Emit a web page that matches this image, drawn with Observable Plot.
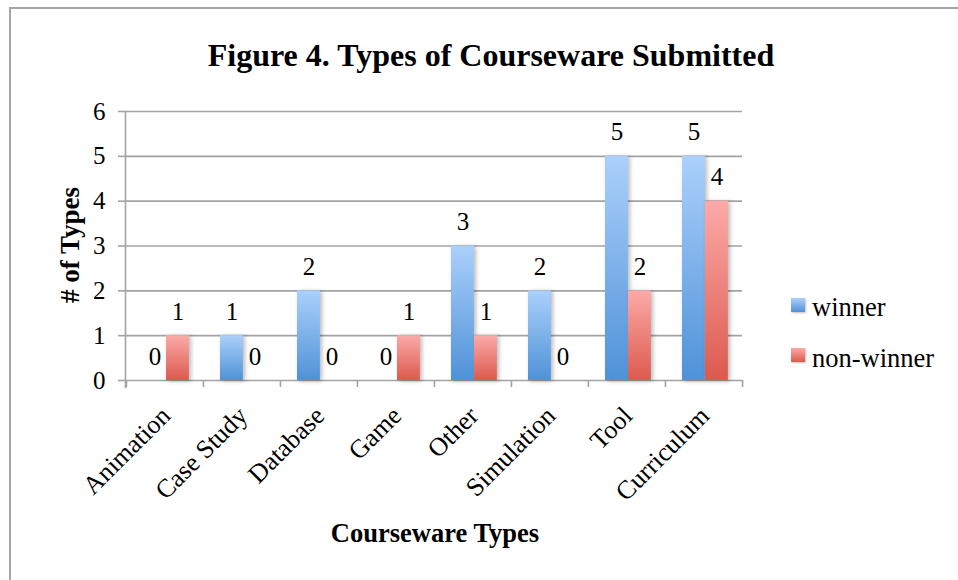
<!DOCTYPE html>
<html><head><meta charset="utf-8">
<script src="https://cdn.jsdelivr.net/npm/d3@7"></script>
<script src="https://cdn.jsdelivr.net/npm/@observablehq/plot@0.6"></script>
<style>
body{margin:0;background:#fff;font-family:"Liberation Serif","Times New Roman",serif;color:#000}
#wrap{position:relative;width:958px;height:580px;overflow:hidden}
#frame{position:absolute;left:9px;top:7px;width:980px;height:600px;border-top:2px solid #a6a6a6;border-left:2px solid #a6a6a6;box-sizing:border-box}
#chart{position:absolute;left:0;top:0}
.title{position:absolute;left:0;width:982px;text-align:center;top:37px;line-height:36px;font-weight:bold;font-size:32px}
.ylab{position:absolute;left:70px;top:245px;transform:translate(-50%,-50%) rotate(-90deg);font-weight:bold;font-size:27px;white-space:nowrap}
.xlab{position:absolute;left:435px;top:533px;transform:translate(-50%,-50%);font-weight:bold;font-size:26.5px;white-space:nowrap}
.sw{position:absolute;left:791px;width:14px;height:14px;box-shadow:1px 1px 2px rgba(0,0,0,.25)}
.lt{position:absolute;left:812px;font-size:26.5px;line-height:30px;white-space:nowrap}
svg g[aria-label="bar"] rect{filter:drop-shadow(2px 1px 2px rgba(0,0,0,.28))}
</style>
</head><body>
<div id="wrap">
<div id="frame"></div>
<div id="chart"></div>
<div class="title">Figure 4. Types of Courseware Submitted</div>
<div class="ylab"># of Types</div>
<div class="xlab">Courseware Types</div>
<div class="sw" style="top:298px;background:linear-gradient(#abd0fb,#4f92d8)"></div>
<div class="lt" style="top:292px">winner</div>
<div class="sw" style="top:348px;background:linear-gradient(#fcaaa8,#dc5a4e)"></div>
<div class="lt" style="top:343px">non-winner</div>
</div>
<script>
const categories = ["Animation","Case Study","Database","Game","Other","Simulation","Tool","Curriculum"];
const winner    = [0,1,2,0,3,2,5,5];
const nonWinner = [1,0,0,1,1,0,2,4];
const seriesNames = ["winner","non-winner"];
const yTicks = [0,1,2,3,4,5,6];

const winRows = categories.map((c,i)=>({category:c, series:seriesNames[0], value:winner[i]}));
const nonRows = categories.map((c,i)=>({category:c, series:seriesNames[1], value:nonWinner[i]}));

const W = 958, H = 580, mL = 125, mR = 216, mT = 111, mB = 200;
const bw = (W - mL - mR) / categories.length;
const gridColor = "#a3a3a3";
const fs = 25;

const chart = Plot.plot({
  width: W, height: H,
  marginLeft: mL, marginRight: mR, marginTop: mT, marginBottom: mB,
  x: {type: "band", domain: categories, padding: 0},
  y: {domain: [0, 6]},
  style: {fontFamily: "'Liberation Serif','Times New Roman',serif", fontSize: fs + "px", color: "#000", background: "transparent", overflow: "visible"},
  marks: [
    Plot.gridY(yTicks, {stroke: gridColor, strokeOpacity: 1, strokeWidth: 1.6}),
    Plot.barY(winRows, {x: "category", y: "value", fill: "url(#gradBlue)", insetLeft: 17, insetRight: bw - 40}),
    Plot.barY(nonRows, {x: "category", y: "value", fill: "url(#gradRed)", insetLeft: 40, insetRight: bw - 63}),
    Plot.text(winRows, {x: "category", y: "value", text: d => String(d.value), dx: 28.5 - bw/2, dy: -24, fontSize: fs, fill: "#000"}),
    Plot.text(nonRows, {x: "category", y: "value", text: d => String(d.value), dx: 51.5 - bw/2, dy: -24, fontSize: fs, fill: "#000"}),
    Plot.frame({anchor: "left", stroke: gridColor, strokeWidth: 1.6, insetBottom: -7}),
    Plot.axisY({ticks: yTicks, tickFormat: d3.format("d"), tickSize: 7, tickPadding: 13, stroke: gridColor, strokeWidth: 1.6, label: null, fontSize: fs, fill: "#000"}),
    Plot.axisX({ticks: categories, tickSize: 7, dx: -bw/2, tickFormat: () => "", stroke: gridColor, strokeWidth: 1.6, label: null}),
    Plot.axisX({ticks: [categories[categories.length-1]], tickSize: 7, dx: bw/2, tickFormat: () => "", stroke: gridColor, strokeWidth: 1.6, label: null}),
    Plot.axisX({ticks: categories, tickSize: 0, tickRotate: -45, tickPadding: 31, dx: 1, label: null, fontSize: 26, fill: "#000"})
  ]
});

const defs = d3.select(chart).insert("defs", ":first-child");
const gb = defs.append("linearGradient").attr("id","gradBlue").attr("x1",0).attr("y1",0).attr("x2",0).attr("y2",1);
gb.append("stop").attr("offset","0%").attr("stop-color","#abd0fb");
gb.append("stop").attr("offset","100%").attr("stop-color","#4f92d8");
const gr = defs.append("linearGradient").attr("id","gradRed").attr("x1",0).attr("y1",0).attr("x2",0).attr("y2",1);
gr.append("stop").attr("offset","0%").attr("stop-color","#fcaaa8");
gr.append("stop").attr("offset","100%").attr("stop-color","#dc5a4e");

document.getElementById("chart").appendChild(chart);
</script>
</body></html>
